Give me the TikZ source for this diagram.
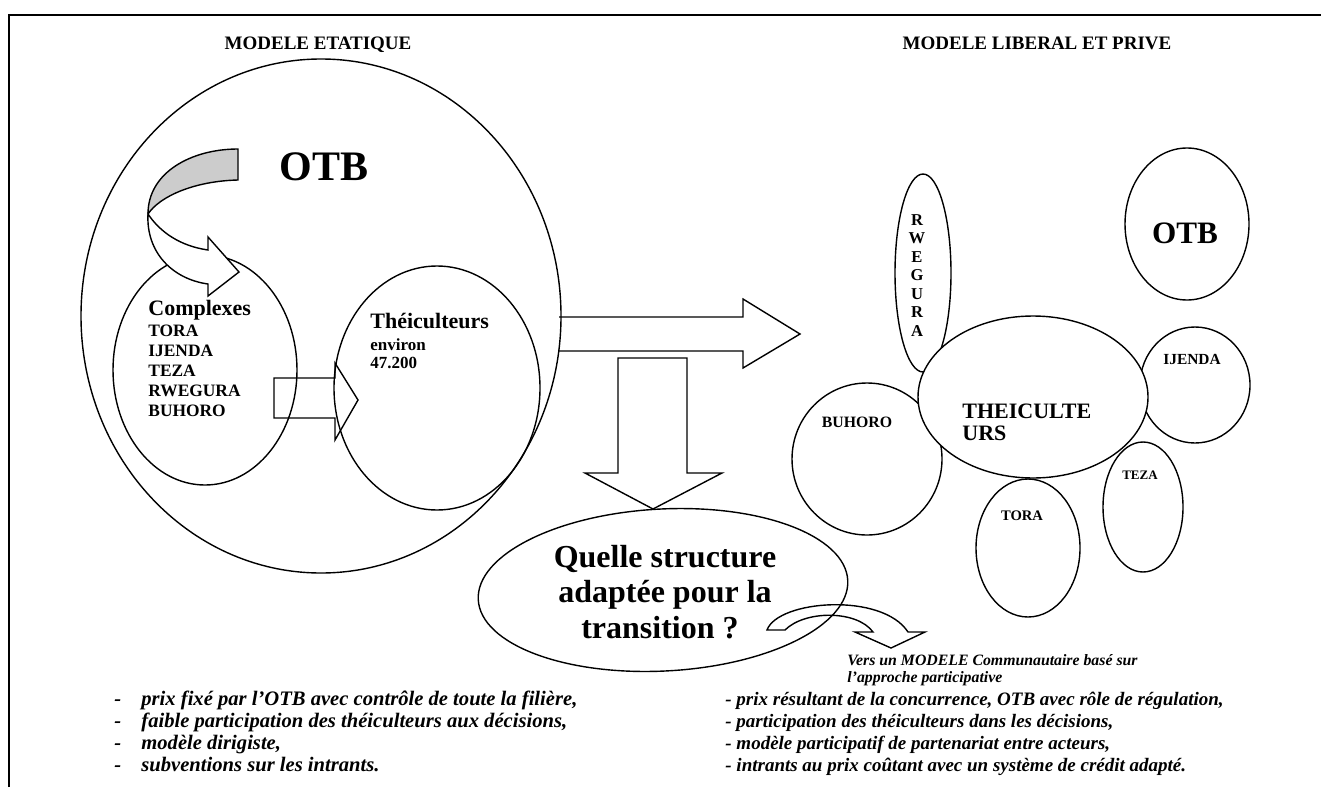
\documentclass[tikz,border=0pt]{standalone}
\usepackage{fontspec}
\setmainfont{Liberation Serif}
\usetikzlibrary{shapes.geometric}
\tikzset{
    bulle/.style={draw, ellipse, inner sep=0pt, line width=0.7pt},
    fleche/.style={draw, line width=0.7pt, line join=miter},
    titre/.style={font=\bfseries\fontsize{9.5}{11}\selectfont, anchor=base, inner sep=0pt},
    gras/.style={font=\bfseries\fontsize{#1}{#1}\selectfont, inner sep=0pt},
    puce/.style={font=\bfseries\itshape\fontsize{#1}{11}\selectfont, anchor=base west, inner sep=0pt}
}

\begin{document}
\begin{tikzpicture}[x=0.5pt, y=-0.5pt]
\useasboundingbox (0,0) rectangle (1321,787);
\draw[line width=0.7pt] (9,787) -- (9,15) -- (1321,15);

\node[titre] (etat) at (318,49) {MODELE ETATIQUE};
\node[titre] (liberal) at (1037,49) {MODELE LIBERAL ET PRIVE};

% modele etatique
\node[bulle, minimum width=240pt, minimum height=257pt] (otb) at (321,316) {};
\node[bulle, minimum width=92pt, minimum height=115pt] (complexes) at (205,370) {};
\node[bulle, minimum width=103pt, minimum height=122pt] (theic) at (437,388) {};
\node[gras=21, anchor=base] (otbtxt) at (324,180) {OTB};

\draw[fleche, fill=gray!40] (238,149) .. controls (192,149) and (148,172) .. (148,214)
    .. controls (160,196) and (195,181) .. (238,180) -- cycle;
\draw[fleche, fill=white] (148,214) .. controls (146,252) and (172,279) .. (208,284)
    -- (208,296) -- (239,272) -- (208,237) -- (208,250)
    .. controls (180,246) and (160,232) .. (148,214) -- cycle;

\node[gras=11, anchor=base west] (cplx) at (148,315) {Complexes};
\foreach \nom [count=\i from 0] in {TORA,IJENDA,TEZA,RWEGURA,BUHORO}
    \node[gras=8.7, anchor=base west] (cplx\i) at (148,336+20*\i) {\nom};

\node[gras=11, anchor=base west] (theictxt) at (370,328) {Théiculteurs};
\node[gras=8.5, anchor=base west] (environ) at (370,350) {environ};
\node[gras=8.5, anchor=base west] (nombre) at (370,368) {47.200};

\draw[fleche] (274,378) -- (335,378) -- (335,363) -- (358,400) -- (335,440) -- (335,418) -- (274,418) -- cycle;

% fleches vers la droite et vers le bas
\draw[fleche] (559,317) -- (743,317) -- (743,299) -- (800,334) -- (743,368) -- (743,351) -- (559,351);
\draw[fleche] (618,358) -- (687,358) -- (687,473) -- (722,473) -- (653,509) -- (585,473) -- (618,473) -- cycle;

% transition
\node[bulle, minimum width=185pt, minimum height=81pt, rotate=3] (quelle) at (663,590) {};
\node[gras=16, anchor=base] (q1) at (665,567) {Quelle structure};
\node[gras=16, anchor=base] (q2) at (665,602) {adaptée pour la};
\node[gras=16, anchor=base] (q3) at (660,638) {transition ?};

\draw[fleche] (767,630) .. controls (778,600) and (882,592) .. (908,632) -- (925,632) -- (891,648)
    -- (855,632) -- (873,632) .. controls (857,610) and (805,610) .. (785,630) -- cycle;
\node[font=\bfseries\itshape\fontsize{7.9}{9}\selectfont, anchor=base west, inner sep=0pt] (vers1) at (847,665) {Vers un MODELE Communautaire basé sur};
\node[font=\bfseries\itshape\fontsize{7.9}{9}\selectfont, anchor=base west, inner sep=0pt] (vers2) at (847,682) {l’approche participative};

% modele liberal
\node[bulle, fill=white, minimum width=28pt, minimum height=99pt] (rwegura) at (923,273) {};
\node[bulle, fill=white, minimum width=62pt, minimum height=76pt] (otbdroite) at (1187,224) {};
\node[bulle, fill=white, minimum width=55pt, minimum height=58pt] (ijenda) at (1195,385) {};
\node[bulle, fill=white, minimum width=75pt, minimum height=76pt] (buhoro) at (867,459) {};
\node[bulle, fill=white, minimum width=52pt, minimum height=69pt] (tora) at (1028,548) {};
\node[bulle, fill=white, minimum width=40pt, minimum height=65pt] (teza) at (1143,507) {};
\node[bulle, fill=white, minimum width=115pt, minimum height=81pt] (theicdroite) at (1033,397) {};

\foreach \lettre [count=\i from 0] in {R,W,E,G,U,R,A}
    \node[gras=8.3, anchor=base] (rw\i) at (917,225+18.5*\i) {\lettre};
\node[gras=15.6, anchor=base] (otbdtxt) at (1185,243) {OTB};
\node[gras=11, anchor=base west] (theicd1) at (962,418) {THEICULTE};
\node[gras=11, anchor=base west] (theicd2) at (962,440) {URS};
\node[gras=7.7, anchor=base] (ijendatxt) at (1192,364) {IJENDA};
\node[gras=7.9, anchor=base] (buhorotxt) at (857,427) {BUHORO};
\node[gras=7.3, anchor=base] (toratxt) at (1022,520) {TORA};
\node[gras=6.5, anchor=base] (tezatxt) at (1140,479) {TEZA};

% caracteristiques
\foreach \ligne [count=\i from 0] in {{prix fixé par l’OTB avec contrôle de toute la filière,},
    {faible participation des théiculteurs aux décisions,}, {modèle dirigiste,},
    {subventions sur les intrants.}} {
    \node[puce=10.3] (tiret\i) at (114,705+22*\i) {-};
    \node[puce=10.3] (gauche\i) at (141,705+22*\i) {\ligne};
}
\foreach \ligne [count=\i from 0] in {{- prix résultant de la concurrence, OTB avec rôle de régulation,},
    {- participation des théiculteurs dans les décisions,},
    {- modèle participatif de partenariat entre acteurs,},
    {- intrants au prix coûtant avec un système de crédit adapté.}}
    \node[puce=9.5] (droite\i) at (725,705+22*\i) {\ligne};

\end{tikzpicture}
\end{document}
